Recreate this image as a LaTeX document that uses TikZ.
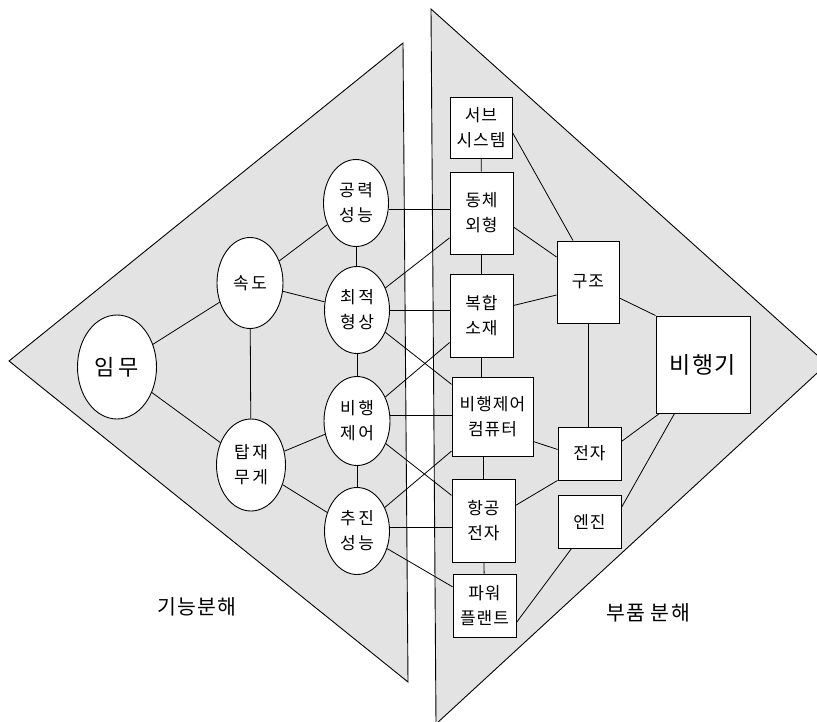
\documentclass[tikz,border=0pt]{standalone}
\usepackage{fontspec}
\setmainfont{Noto Sans CJK KR}
\usetikzlibrary{shapes.geometric}
\begin{document}
\begin{tikzpicture}[x=1pt,y=-1pt,
  ell/.style={ellipse,draw,line width=0.9pt,fill=white,inner sep=0pt,align=center,
    font=\fontsize{17}{25}\selectfont\addfontfeature{LetterSpace=15}},
  box/.style={rectangle,draw,line width=0.9pt,fill=white,inner sep=0pt,align=center,
    font=\fontsize{17}{25}\selectfont\addfontfeature{LetterSpace=6}},
  link/.style={line width=0.8pt},
  tri/.style={draw,line width=0.9pt,fill=black!11},
  lbl/.style={inner sep=0pt,font=\fontsize{20.5}{24}\selectfont\addfontfeature{LetterSpace=6}}]
\useasboundingbox (0,0) rectangle (817,722);
\begin{scope}
\clip (0,0) rectangle (817,722);
\filldraw[tri] (403,43) -- (9,361) -- (408,682) -- cycle;
\filldraw[tri] (431,9) -- (827,364) -- (436,724) -- cycle;
\end{scope}

% left: function decomposition
\node[ell,minimum width=79pt,minimum height=104pt,font=\fontsize{22}{24}\selectfont\addfontfeature{LetterSpace=18}] (imu) at (117,367) {임무};
\node[ell,minimum width=66pt,minimum height=91pt] (sokdo) at (250,283) {속도};
\node[ell,minimum width=69pt,minimum height=92pt] (tap) at (251,465) {탑재\\무게};
\node[ell,minimum width=65pt,minimum height=87pt] (gong) at (356,203) {공력\\성능};
\node[ell,minimum width=65pt,minimum height=87pt] (choe) at (357,310) {최적\\형상};
\node[ell,minimum width=66pt,minimum height=89pt] (bj) at (357,421) {비행\\제어};
\node[ell,minimum width=65pt,minimum height=87pt] (chu) at (357,531) {추진\\성능};

% right: component decomposition
\node[box,minimum width=62pt,minimum height=61pt] (sub) at (481,127.5) {서브\\시스템};
\node[box,minimum width=63pt,minimum height=82pt] (dong) at (481.5,213) {동체\\외형};
\node[box,minimum width=63pt,minimum height=83pt] (bok) at (481.5,315.5) {복합\\소재};
\node[box,minimum width=81pt,minimum height=79pt] (bjc) at (492.5,416.5) {비행제어\\컴퓨터};
\node[box,minimum width=63pt,minimum height=83pt] (hang) at (483.5,520.5) {항공\\전자};
\node[box,minimum width=63pt,minimum height=63pt] (power) at (484.5,605.5) {파워\\플랜트};
\node[box,minimum width=62pt,minimum height=82pt] (gujo) at (588,282) {구조};
\node[box,minimum width=63pt,minimum height=53pt] (jeonja) at (589.5,453.5) {전자};
\node[box,minimum width=63pt,minimum height=53pt] (engine) at (589.5,521.5) {엔진};
\node[box,minimum width=94pt,minimum height=97pt,font=\fontsize{23}{26}\selectfont\addfontfeature{LetterSpace=6}] (bhg) at (703,364.5) {비행기};

% labels
\node[lbl] (lf) at (197,607) {기능분해};
\node[lbl] (lc) at (648,613) {부품 분해};

% left links
\draw[link] (imu) -- (sokdo);
\draw[link] (imu) -- (tap);
\draw[link] (sokdo) -- (tap);
\draw[link] (sokdo) -- (gong);
\draw[link] (sokdo) -- (choe);
\draw[link] (gong) -- (choe);
\draw[link] (choe) -- (bj);
\draw[link] (bj) -- (chu);
\draw[link] (tap) -- (bj);
\draw[link] (tap) -- (chu);

% cross links
\draw[link] ([yshift=-6pt]gong.east) -- ([yshift=-6pt]gong.east -| dong.west);
\draw[link] (choe) -- (dong);
\draw[link] (choe.east) -- (choe.east -| bok.west);
\draw[link] (choe) -- (bjc);
\draw[link] (bj) -- (bok);
\draw[link] ([yshift=6pt]bj.east) -- ([yshift=6pt]bj.east -| bjc.west);
\draw[link] (bj) -- (hang);
\draw[link] (chu) -- (bjc);
\draw[link] ([yshift=4pt]chu.east) -- ([yshift=4pt]chu.east -| hang.west);
\draw[link] (chu) -- (power);

% right links
\draw[link] (sub) -- (dong);
\draw[link] (dong) -- (bok);
\draw[link] (bok.south) -- (bok.south |- bjc.north);
\draw[link] (hang.north |- bjc.south) -- (hang.north);
\draw[link] (hang) -- (power);
\draw[link] ([yshift=-5pt]sub.east) -- ([xshift=-15pt]gujo.north);
\draw[link] ([yshift=-14pt]dong.east) -- ([yshift=25pt]gujo.west);
\draw[link] ([yshift=10pt]bok.east) -- ([yshift=-13pt]gujo.west);
\draw[link] ([yshift=-16pt]gujo.east) -- (bhg.north west);
\draw[link] (gujo.south) -- (gujo.south |- jeonja.north);
\draw[link] ([yshift=-25pt]bjc.east) -- ([yshift=4pt]jeonja.west);
\draw[link] ([yshift=15pt]hang.east) -- (jeonja.south west);
\draw[link] ([yshift=12pt]jeonja.east) -- ([xshift=4pt]bhg.south west);
\draw[link] ([yshift=14pt]engine.east) -- ([xshift=19pt]bhg.south west);
\draw[link] ([yshift=-17pt]power.east) -- ([xshift=14pt]engine.south west);
\end{tikzpicture}
\end{document}
